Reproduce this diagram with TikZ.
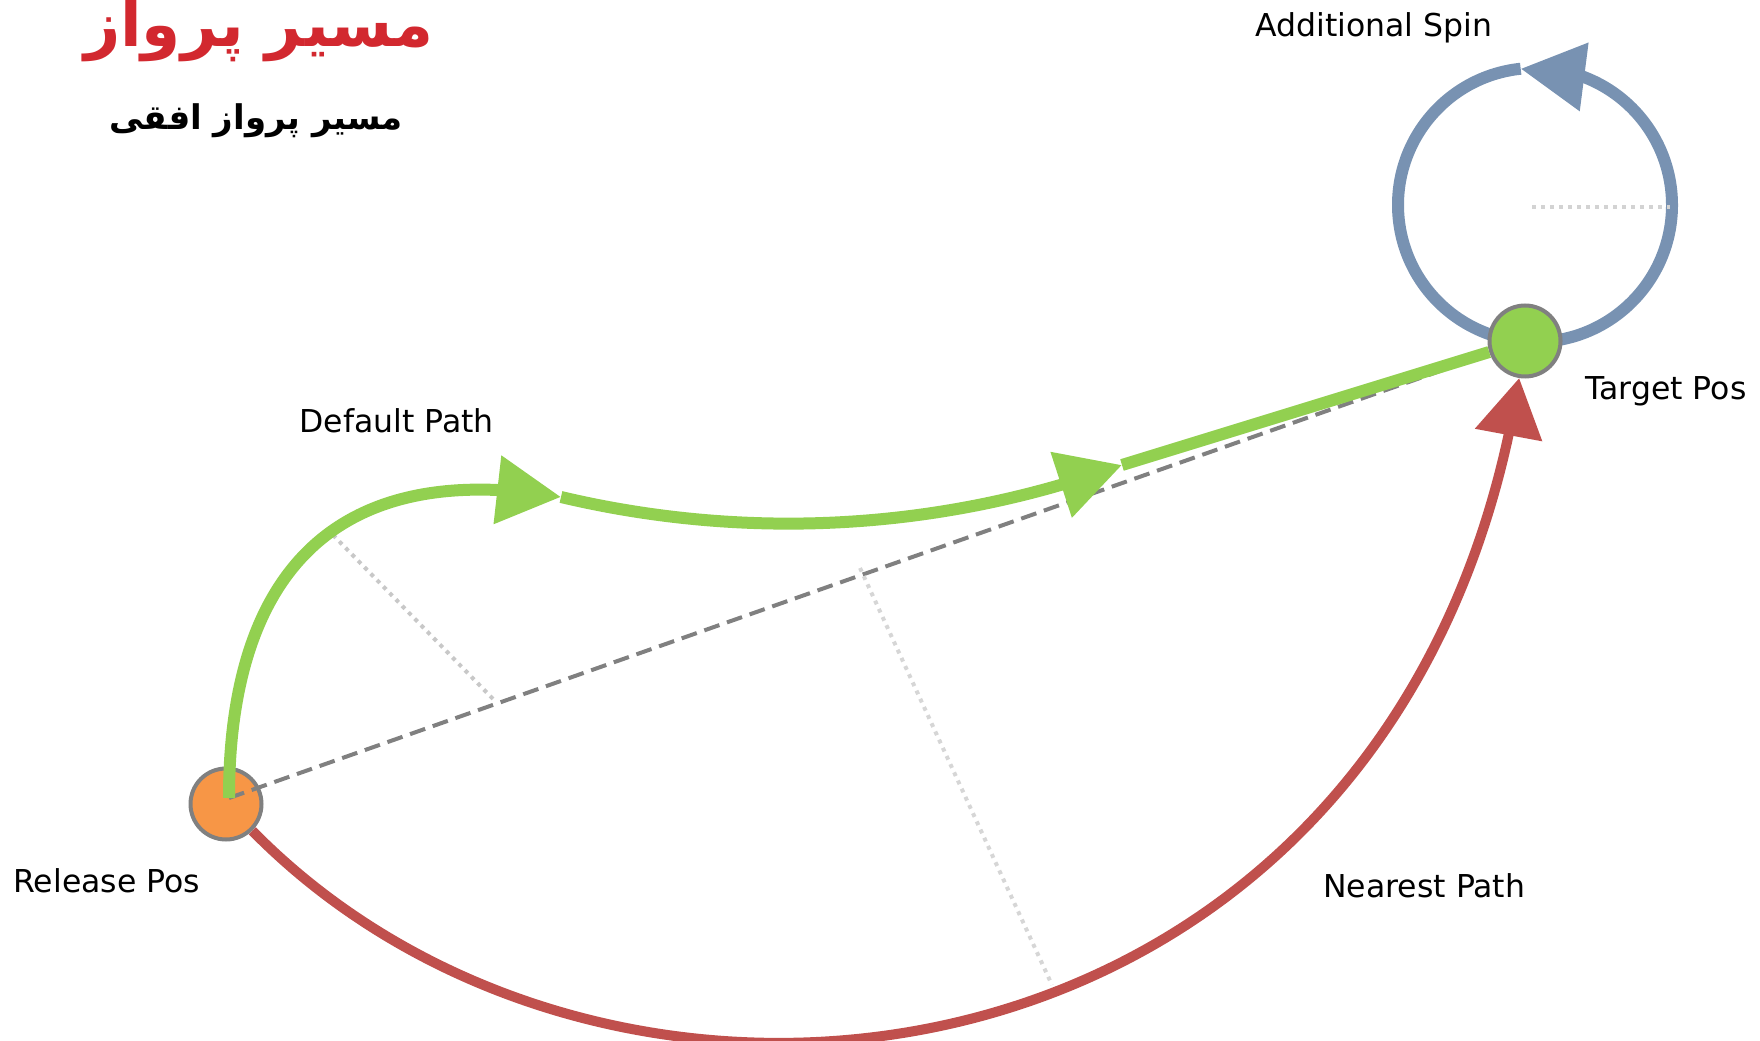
\documentclass[tikz,border=0pt]{standalone}
\usepackage{fontspec}
\setmainfont{DejaVu Sans}
\newfontfamily\arabicfont[Script=Arabic]{DejaVu Sans}
\TeXXeTstate=1
\usetikzlibrary{arrows.meta,bending,positioning,calc}
\definecolor{relorange}{RGB}{247,150,70}
\definecolor{tgtgreen}{RGB}{146,208,80}
\definecolor{pathred}{RGB}{192,80,77}
\definecolor{spinblue}{RGB}{120,146,178}
\definecolor{rimgray}{RGB}{128,128,128}
\definecolor{guidegray}{RGB}{200,200,200}
\definecolor{headred}{RGB}{210,40,47}

\begin{document}
\begin{tikzpicture}[x=0.5pt, y=0.5pt, >={Triangle[length=32pt,width=33pt,flex]}]
\tikzstyle{release}=[circle,fill=relorange,draw=rimgray,line width=2pt,minimum size=35.5pt,inner sep=0pt]
\tikzstyle{target}=[circle,fill=tgtgreen,draw=rimgray,line width=2pt,minimum size=35.5pt,inner sep=0pt]
\tikzstyle{greenpath}=[draw=tgtgreen,line width=6pt]
\tikzstyle{redpath}=[draw=pathred,line width=5pt]
\tikzstyle{spinpath}=[draw=spinblue,line width=6pt]
\tikzstyle{chord}=[draw=rimgray,line width=2pt,dash pattern=on 8pt off 4pt]
\tikzstyle{guide}=[draw=guidegray,line width=2pt,dash pattern=on 2pt off 2.5pt]
\tikzstyle{lbl}=[anchor=base west,inner sep=0pt,font=\fontsize{15.75pt}{19pt}\selectfont]
\tikzstyle{heading}=[anchor=base,inner sep=0pt]
\useasboundingbox (0,0) rectangle (1760,1040);
%
% spin loop round the target
\coordinate (SC) at (1535,835);
\draw[spinpath,->] ($(SC)+(-90:137)$) arc[start angle=-90,end angle=96,radius=137];
\draw[spinpath] ($(SC)+(96:137)$) arc[start angle=96,end angle=270,radius=137];
\draw[guide,draw=guidegray!80] (1532,833) -- (1670,833);
%
\node[release]  (R) at (226,236) {};
\node[target]   (T) at (1525,699) {};
\coordinate (S)  at (229,242);
\coordinate (A1) at (561,543);
\coordinate (A2) at (1122,575);
%
\draw[chord] (S) -- (T);
\draw[guide] (333,505) -- (496,338);
\draw[guide,draw=guidegray!75] (860,472) -- (1052,55);
%
\draw[greenpath,->] (S) .. controls (229,443) and (315,585) .. (A1);
\draw[greenpath,->] (A1) .. controls (700,510) and (900,495) .. (A2);
\draw[greenpath] (A2) -- (T);
%
\draw[redpath,-{Triangle[length=29pt,width=33pt,flex]}] (R) .. controls (620,-165) and (1405,-62) .. (T);
%
\node[lbl] (RL) at (13,148)    {Release Pos};
\node[lbl] (TL) at (1585,640)  {Target Pos};
\node[lbl] (DL) at (299,607)   {Default Path};
\node[lbl] (NL) at (1323,143)  {Nearest Path};
\node[lbl] (SL) at (1255,1003) {Additional Spin};
%
\node[heading,text=headred,font=\fontsize{31.5pt}{38pt}\selectfont\bfseries] (H1) at (259,993)
    {\arabicfont\bfseries\beginR مسیر پرواز\endR};
\node[heading,font=\fontsize{17pt}{21pt}\selectfont\bfseries] (H2) at (256,910)
    {\arabicfont\bfseries\beginR مسیر پرواز افقی\endR};
\end{tikzpicture}
\end{document}
